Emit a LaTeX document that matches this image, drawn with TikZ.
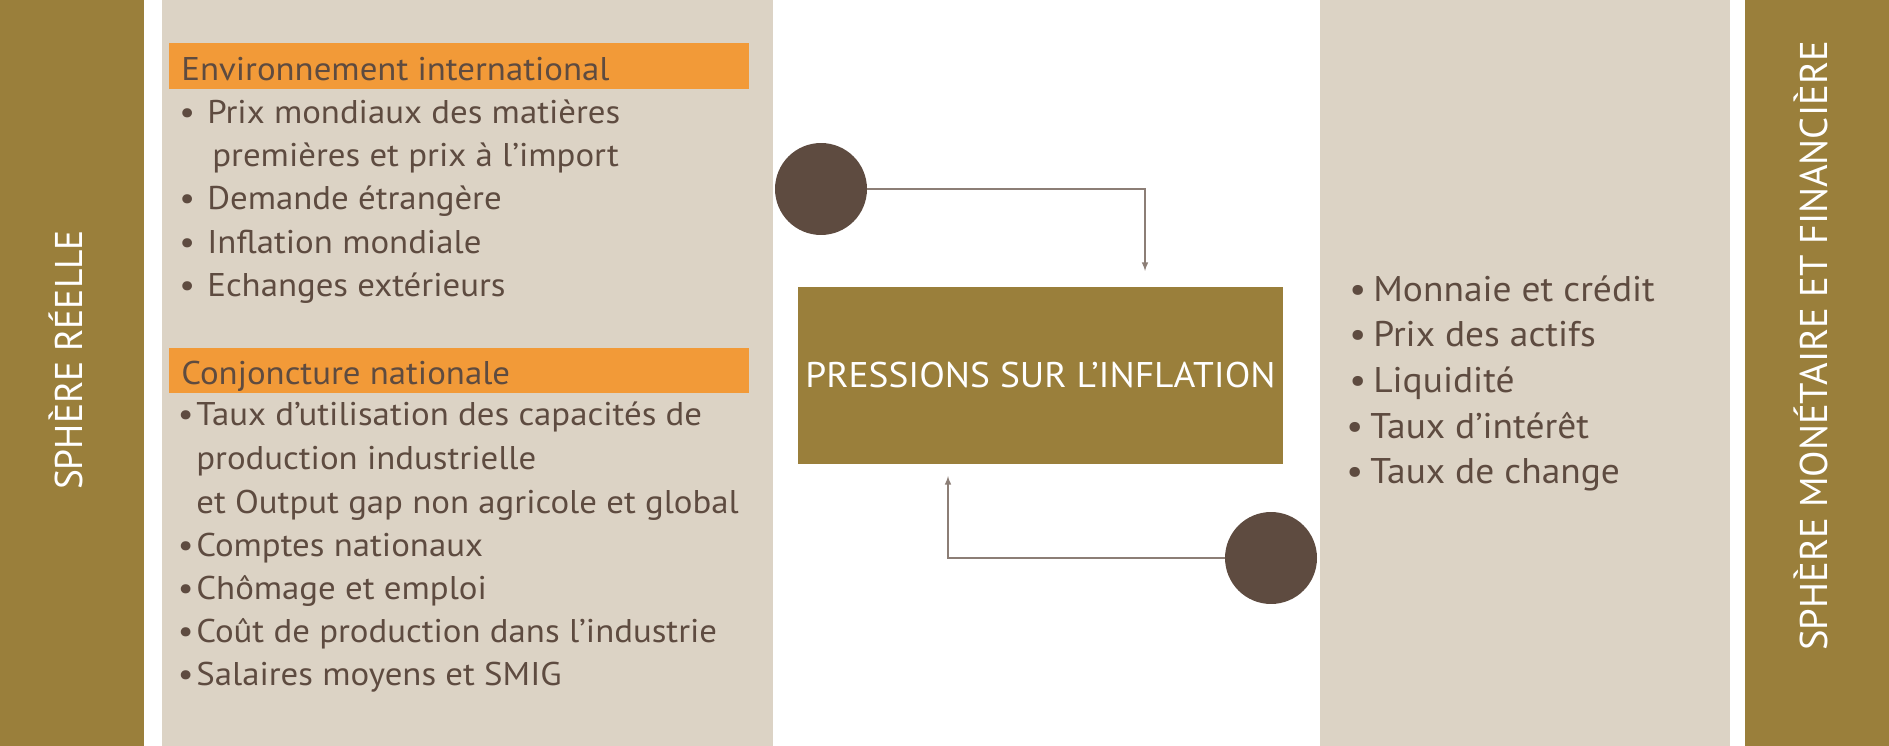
\documentclass[tikz,border=0pt]{standalone}
\usepackage{fontspec}
\setmainfont{PT Sans}
\newfontfamily\leftfont[FakeStretch=1.06]{PT Sans}
\newfontfamily\rightfont[FakeStretch=1.05]{PT Sans}
\newfontfamily\bandfont[FakeStretch=0.97]{PT Sans}
\usetikzlibrary{positioning}

\definecolor{olive}{HTML}{9A7F3B}
\definecolor{sand}{HTML}{DCD3C5}
\definecolor{tangerine}{HTML}{F29A38}
\definecolor{umber}{HTML}{5E4B40}
\definecolor{wire}{HTML}{8C7E76}

\newcommand{\blt}[1]{\llap{\textbullet\hspace{#1}}}

\tikzset{
	band/.style={fill=olive},
	panel/.style={fill=sand},
	header/.style={fill=tangerine},
	bandtext/.style={text=white, rotate=90, anchor=base, inner sep=0pt, font=\bandfont\fontsize{22}{26}\selectfont},
	itemtext/.style={text=umber, anchor=base west, inner sep=0pt, font=\leftfont\fontsize{18.7}{24}\selectfont},
	monetext/.style={text=umber, anchor=base west, inner sep=0pt, font=\rightfont\fontsize{20.3}{26}\selectfont},
	pressbox/.style={fill=olive, text=white, minimum width=9.7cm, minimum height=3.54cm, inner sep=0pt, font=\rightfont\fontsize{20.3}{26}\selectfont},
	dot/.style={circle, fill=umber, minimum size=1.84cm, inner sep=0pt},
	link/.style={draw=wire, line width=0.7pt, -latex},
}

\begin{document}
\begin{tikzpicture}[x=0.02cm, y=-0.02cm]
	\useasboundingbox (0, 0) rectangle (1889, 746);
	% Bands and panels:
	\fill[band] (0, 0) rectangle (144, 746);
	\fill[panel] (162, 0) rectangle (773, 746);
	\fill[panel] (1320, 0) rectangle (1730, 746);
	\fill[band] (1745, 0) rectangle (1889, 746);
	\fill[header] (169, 43) rectangle (749, 89);
	\fill[header] (169, 348) rectangle (749, 393);
	\node[bandtext] (reelle) at (82, 360) {SPHÈRE RÉELLE};
	\node[bandtext, font=\rmfamily\fontsize{22}{26}\selectfont] (monetaire) at (1827, 346) {SPHÈRE MONÉTAIRE ET FINANCIÈRE};
	% Sphere reelle items:
	\node[itemtext] (envhead) at (181, 81) {Environnement international};
	\node[itemtext] (env1) at (207, 124) {\blt{7pt}Prix mondiaux des matières};
	\node[itemtext] (env1b) at (212, 167) {premières et prix à l’import};
	\node[itemtext] (env2) at (207, 210) {\blt{7pt}Demande étrangère};
	\node[itemtext] (env3) at (207, 254) {\blt{7pt}Inflation mondiale};
	\node[itemtext] (env4) at (207, 297) {\blt{7pt}Echanges extérieurs};
	\node[itemtext] (conjhead) at (181, 384) {Conjoncture nationale};
	\node[itemtext] (conj1) at (196, 425) {\blt{1.5pt}Taux d’utilisation des capacités de};
	\node[itemtext] (conj1b) at (196, 469) {production industrielle};
	\node[itemtext] (conj1c) at (196, 513) {et Output gap non agricole et global};
	\node[itemtext] (conj2) at (196, 556) {\blt{1.5pt}Comptes nationaux};
	\node[itemtext] (conj3) at (196, 599) {\blt{1.5pt}Chômage et emploi};
	\node[itemtext] (conj4) at (196, 642) {\blt{1.5pt}Coût de production dans l’industrie};
	\node[itemtext] (conj5) at (196, 685) {\blt{1.5pt}Salaires moyens et SMIG};
	% Sphere monetaire items:
	\node[monetext] (mon1) at (1373, 302) {\blt{4pt}Monnaie et crédit};
	\node[monetext] (mon2) at (1373, 347) {\blt{4pt}Prix des actifs};
	\node[monetext] (mon3) at (1373, 392) {\blt{4pt}Liquidité};
	\node[monetext] (mon4) at (1370, 438) {\blt{4pt}Taux d’intérêt};
	\node[monetext] (mon5) at (1370, 483) {\blt{4pt}Taux de change};
	% Centre box, dots and links:
	\node[pressbox] (press) at (1040.5, 375.5) {PRESSIONS SUR L’INFLATION};
	\node[dot] (dot1) at (821, 189) {};
	\node[dot] (dot2) at (1271, 558) {};
	\coordinate (tip1) at (1145, 271);
	\coordinate (tip2) at (948, 476);
	\draw[link] (dot1) -| (tip1);
	\draw[link] (dot2) -| (tip2);
\end{tikzpicture}
\end{document}
